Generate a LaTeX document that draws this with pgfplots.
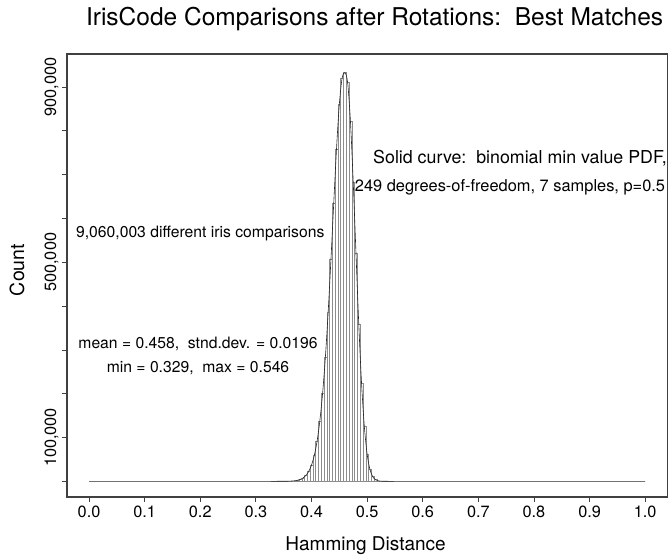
\documentclass[border=0pt]{standalone}
\usepackage{pgfplots}
\pgfplotsset{compat=1.18}
\usepackage{pgfplotstable}
\usepackage{fontspec}
\setmainfont{TeX Gyre Heros}

% counts per bin of width 0.005 (bin centres)
\pgfplotstableread{
x count
0.330 3
0.335 7
0.340 16
0.345 35
0.350 75
0.355 155
0.360 310
0.365 640
0.370 1300
0.375 2400
0.380 4400
0.385 7800
0.390 13300
0.395 22500
0.400 37000
0.405 59000
0.410 91000
0.415 138000
0.420 201000
0.425 284000
0.430 387000
0.435 507000
0.440 635000
0.445 759000
0.450 860000
0.455 920000
0.460 933000
0.465 910390
0.470 822490
0.475 683970
0.480 520000
0.485 358900
0.490 224180
0.495 125270
0.500 62376
0.505 27536
0.510 10731
0.515 3698
0.520 1109
0.525 289
0.530 65
0.535 13
0.540 2
0.545 1
}\histdata

% binomial min value PDF, scaled to counts
\pgfplotstableread{
x pdf
0.000 0
0.300 0
0.330 3
0.340 16
0.350 75
0.360 310
0.370 1300
0.375 2400
0.380 4400
0.385 7800
0.390 13300
0.395 22500
0.400 37000
0.405 59000
0.410 91000
0.415 138000
0.420 201000
0.425 284000
0.430 387000
0.435 507000
0.440 635000
0.445 759000
0.450 860000
0.455 920000
0.460 933000
0.465 910390
0.470 822490
0.475 683970
0.480 520000
0.485 358900
0.490 224180
0.495 125270
0.500 62376
0.505 27536
0.510 10731
0.515 3698
0.520 1109
0.525 289
0.530 65
0.540 2
0.560 0
0.700 0
1.000 0
}\curvedata

\begin{document}
\begin{tikzpicture}
\begin{axis}[
  scale only axis, width=601pt, height=443pt,
  xmin=-0.0396, xmax=1.041, ymin=-35845, ymax=975555,
  axis line style={black!75, line width=1.3pt},
  tick pos=left, tick align=outside, major tick length=5pt,
  tick style={black!75, line width=0.8pt},
  xtick={0,0.1,...,1.0},
  xticklabels={0.0,0.1,0.2,0.3,0.4,0.5,0.6,0.7,0.8,0.9,1.0},
  ytick={0,100000,...,900000},
  yticklabels={,100{,}000,,,,500{,}000,,,,900{,}000},
  scaled y ticks=false,
  every tick label/.append style={font=\fontsize{16.3}{18}\selectfont},
  yticklabel style={rotate=90, anchor=south},
  clip=false,
]
\addplot[ybar, bar width=0.005, bar shift=0pt, draw=black!45, fill=white, line width=0.4pt]
  table[x=x, y=count] {\histdata};
\addplot[black!85, line width=0.6pt, smooth, mark=none] table[x=x, y=pdf] {\curvedata};

\node[anchor=base, font=\fontsize{24.5}{28}\selectfont] at (axis cs:0.5135,1039500)
  {IrisCode Comparisons after Rotations:\ \ Best Matches};
\node[anchor=base, font=\fontsize{19}{22}\selectfont] at (axis cs:0.4973,-157000)
  {Hamming Distance};
\node[anchor=base, rotate=90, font=\fontsize{19.5}{22}\selectfont] at (axis cs:-0.1169,482420)
  {Count};

\node[anchor=base, font=\fontsize{17.8}{20}\selectfont] at (axis cs:0.775,725000)
  {Solid curve:\ \ binomial min value PDF,};
\node[anchor=base, font=\fontsize{16.4}{20}\selectfont] at (axis cs:0.757,661000)
  {249 degrees-of-freedom, 7 samples, p=0.5};
\node[anchor=base, font=\fontsize{15.7}{20}\selectfont] at (axis cs:0.2,556000)
  {9,060,003 different iris comparisons};
\node[anchor=base, font=\fontsize{15.7}{20}\selectfont] at (axis cs:0.196,304000)
  {mean = 0.458,\ \ stnd.dev. = 0.0196};
\node[anchor=base, font=\fontsize{15.7}{20}\selectfont] at (axis cs:0.196,248000)
  {min = 0.329,\ \ max = 0.546};
\end{axis}
\pgfresetboundingbox
\path (current axis.south west) ++(-67pt,-60pt) rectangle ++(668pt,557pt);
\end{tikzpicture}
\end{document}
